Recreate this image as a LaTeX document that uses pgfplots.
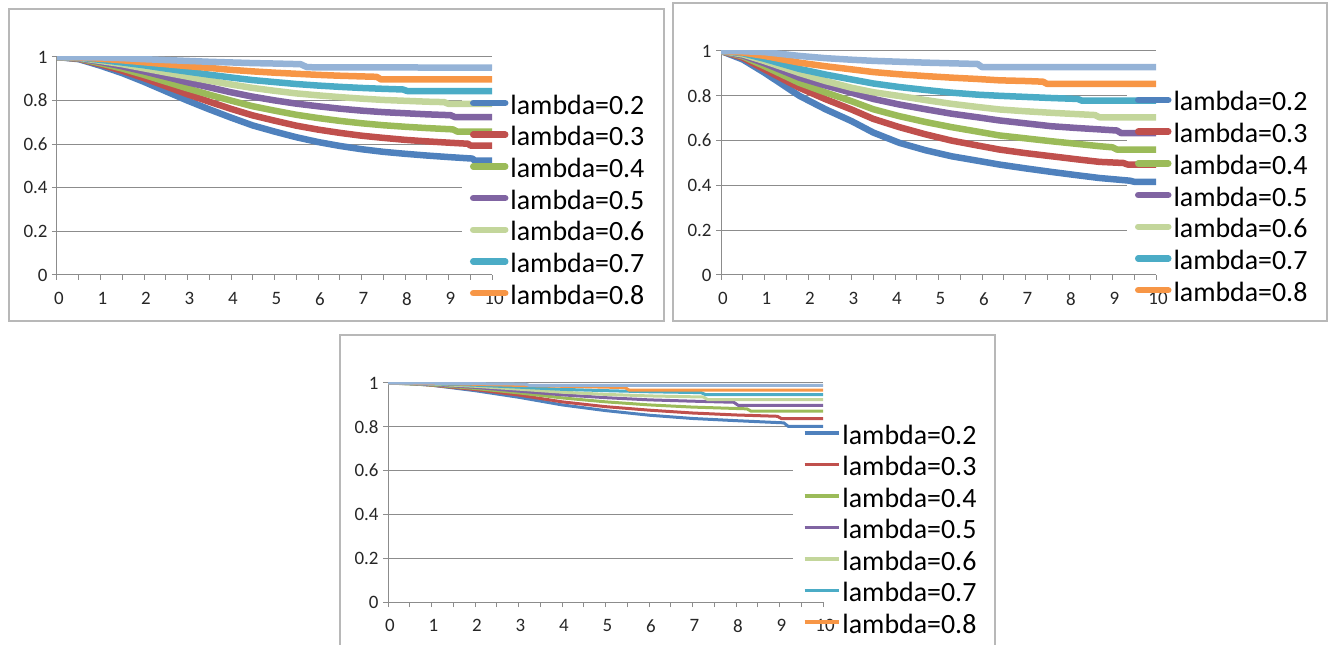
\documentclass[border=0pt]{standalone}
\usepackage{pgfplots}
\pgfplotsset{compat=1.18}
\usepackage{fontspec}
\setmainfont{Carlito}
\definecolor{c1}{HTML}{4F81BD}
\definecolor{c2}{HTML}{C0504D}
\definecolor{c3}{HTML}{9BBB59}
\definecolor{c4}{HTML}{8064A2}
\definecolor{c5}{HTML}{C3D69B}
\definecolor{c6}{HTML}{4BACC6}
\definecolor{c7}{HTML}{F79646}
\definecolor{c8}{HTML}{95B3D7}
\definecolor{axgray}{HTML}{8C8C8C}
\definecolor{frgray}{HTML}{B8B8B8}
\pgfplotsset{
  excel/.style={
    scale only axis, anchor=south west,
    width=435bp,
    xmin=0, xmax=10, ymin=0, ymax=1,
    axis x line*=bottom, axis y line*=left,
    axis line style={-, draw=axgray, line width=1bp},
    xtick={0,1,2,3,4,5,6,7,8,9,10}, minor x tick num=1,
    ytick={0,0.2,0.4,0.6,0.8,1},
    yticklabels={0,0.2,0.4,0.6,0.8,1},
    xticklabels={0,1,2,3,4,5,6,7,8,9,10},
    tick align=outside, major tick length=5bp, minor tick length=5bp,
    tick style={draw=axgray, line width=1bp},
    ymajorgrids, grid style={draw=axgray, line width=1bp},
    ticklabel style={font=\fontsize{19}{19}\selectfont, text=black!85},
    xticklabel style={yshift=-9bp, xshift=2bp},
    yticklabel style={xshift=-1bp},
    /pgf/number format/assume math mode=true,
    legend cell align=left,
    legend entries={lambda=0.2,lambda=0.3,lambda=0.4,lambda=0.5,lambda=0.6,lambda=0.7,lambda=0.8},
    every axis plot/.append style={line join=round, no markers},
  },
  leg/.style n args={3}{
    legend style={
      at={(#1,#2)}, anchor=north west,
      draw=none, fill=none, inner sep=0pt, outer sep=0pt,
      font=\fontsize{28}{28}\selectfont,
      row sep=#3, column sep=2bp,
      nodes={inner sep=0pt, outer sep=0pt, text height=22bp, text depth=0pt, anchor=west},
    },
  },
}
\begin{document}
\begin{tikzpicture}
\path[use as bounding box] (0,0) rectangle (1330bp,645bp);
% frames
\draw[frgray, line width=1.5bp] (9bp,324bp) rectangle (664bp,636bp);
\draw[frgray, line width=1.5bp] (673bp,324bp) rectangle (1327bp,642bp);
\draw[frgray, line width=1.5bp] (340bp,-10bp) rectangle (995bp,310bp);

% ---------------- panel 1
\begin{axis}[excel, at={(57bp,370bp)}, height=218bp,
  leg={0.9494}{0.8394}{9.7bp},
  legend image code/.code={\draw[#1, line cap=round, line width=6.5bp] (3bp,0bp) -- (35bp,0bp);},
  every axis plot/.append style={line width=6.5bp}]
\fill[white] (axis cs:9.3,0.01) rectangle (axis cs:10.2,0.86);
\addplot[c1] coordinates {(0,1)(0.5,0.990)(1,0.960)(1.5,0.926)(2,0.886)(2.5,0.843)(3,0.800)(3.5,0.760)(4,0.722)(4.5,0.686)(5,0.658)(5.5,0.632)(6,0.610)(6.5,0.592)(7,0.577)(7.5,0.565)(8,0.556)(8.5,0.548)(9,0.541)(9.55,0.534)(9.6,0.525)(10,0.525)};
\addplot[c2] coordinates {(0,1)(0.5,0.992)(1,0.966)(1.5,0.937)(2,0.903)(2.5,0.866)(3,0.829)(3.5,0.795)(4,0.762)(4.5,0.732)(5,0.708)(5.5,0.685)(6,0.667)(6.5,0.652)(7,0.639)(7.5,0.629)(8,0.620)(8.5,0.613)(9,0.607)(9.45,0.602)(9.5,0.594)(10,0.594)};
\addplot[c3] coordinates {(0,1)(0.5,0.993)(1,0.971)(1.5,0.947)(2,0.918)(2.5,0.887)(3,0.856)(3.5,0.827)(4,0.800)(4.5,0.774)(5,0.754)(5.5,0.735)(6,0.720)(6.5,0.707)(7,0.696)(7.5,0.687)(8,0.680)(8.5,0.674)(9.1,0.668)(9.2,0.658)(10,0.658)};
\addplot[c4] coordinates {(0,1)(0.5,0.994)(1,0.977)(1.5,0.957)(2,0.934)(2.5,0.909)(3,0.884)(3.5,0.861)(4,0.838)(4.5,0.818)(5,0.801)(5.5,0.786)(6,0.774)(6.5,0.763)(7,0.754)(7.5,0.747)(8,0.742)(8.5,0.737)(9.05,0.733)(9.15,0.724)(10,0.724)};
\addplot[c5] coordinates {(0,1)(0.5,0.996)(1,0.982)(1.5,0.967)(2,0.948)(2.5,0.929)(3,0.910)(3.5,0.891)(4,0.874)(4.5,0.858)(5,0.845)(5.5,0.833)(6,0.824)(6.5,0.816)(7,0.809)(7.5,0.803)(8,0.799)(8.5,0.795)(8.9,0.793)(9.0,0.785)(10,0.785)};
\addplot[c6] coordinates {(0,1)(0.5,0.997)(1,0.987)(1.5,0.975)(2,0.962)(2.5,0.947)(3,0.933)(3.5,0.919)(4,0.906)(4.5,0.894)(5,0.885)(5.5,0.876)(6,0.869)(6.5,0.863)(7,0.858)(7.5,0.854)(7.95,0.851)(8.05,0.844)(10,0.844)};
\addplot[c7] coordinates {(0,1)(0.5,0.998)(1,0.992)(1.5,0.985)(2,0.976)(2.5,0.967)(3,0.958)(3.5,0.950)(4,0.941)(4.5,0.934)(5,0.928)(5.5,0.923)(6,0.918)(6.5,0.914)(7,0.911)(7.35,0.909)(7.45,0.897)(10,0.897)};
\addplot[c8, forget plot] coordinates {(0,1)(1,0.998)(1.5,0.995)(2,0.990)(2.5,0.986)(3,0.982)(3.5,0.978)(4,0.975)(4.5,0.972)(5,0.970)(5.6,0.967)(5.75,0.953)(10,0.951)};
\end{axis}

% ---------------- panel 2
\begin{axis}[excel, at={(721bp,370bp)}, height=224bp,
  leg={0.9517}{0.8304}{9.7bp},
  legend image code/.code={\draw[#1, line cap=round, line width=6.5bp] (3bp,0bp) -- (33bp,0bp);},
  every axis plot/.append style={line width=6.5bp}]
\fill[white] (axis cs:9.33,0.01) rectangle (axis cs:10.2,0.85);
\addplot[c1] coordinates {(0,1)(0.5,0.962)(1,0.903)(1.8,0.80)(2.4,0.74)(3,0.687)(3.5,0.636)(4.1,0.59)(4.7,0.557)(5.3,0.53)(5.9,0.51)(6.4,0.493)(7,0.476)(7.6,0.46)(8.2,0.445)(8.7,0.433)(9.4,0.421)(9.5,0.416)(10,0.416)};
\addplot[c2] coordinates {(0,1)(0.5,0.97)(1,0.918)(1.8,0.836)(2.4,0.785)(3,0.739)(3.5,0.697)(4.1,0.66)(4.7,0.628)(5.3,0.60)(5.9,0.578)(6.4,0.56)(7,0.544)(7.6,0.53)(8.2,0.516)(8.7,0.505)(9.25,0.50)(9.35,0.493)(10,0.493)};
\addplot[c3] coordinates {(0,1)(0.5,0.976)(1,0.932)(1.8,0.858)(2.4,0.815)(3,0.776)(3.5,0.74)(4.1,0.709)(4.7,0.683)(5.3,0.66)(5.9,0.64)(6.4,0.623)(7,0.61)(7.6,0.597)(8.2,0.585)(8.7,0.575)(9.0,0.57)(9.1,0.56)(10,0.56)};
\addplot[c4] coordinates {(0,1)(0.5,0.98)(1,0.945)(1.8,0.881)(2.4,0.846)(3,0.814)(3.5,0.786)(4.1,0.761)(4.7,0.74)(5.3,0.72)(5.9,0.704)(6.4,0.69)(7,0.677)(7.6,0.664)(8.2,0.656)(8.7,0.65)(9.1,0.645)(9.2,0.633)(10,0.633)};
\addplot[c5] coordinates {(0,1)(0.5,0.985)(1,0.955)(1.8,0.902)(2.4,0.866)(3,0.836)(3.5,0.816)(4.1,0.799)(4.7,0.781)(5.3,0.764)(5.9,0.75)(6.4,0.739)(7,0.731)(7.6,0.724)(8.2,0.718)(8.6,0.714)(8.7,0.704)(10,0.704)};
\addplot[c6] coordinates {(0,1)(0.5,0.99)(1,0.965)(1.8,0.92)(2.4,0.895)(3,0.873)(3.5,0.855)(4.1,0.839)(4.7,0.826)(5.3,0.814)(5.9,0.805)(6.4,0.80)(7,0.795)(7.6,0.79)(8.2,0.786)(8.3,0.778)(10,0.778)};
\addplot[c7] coordinates {(0,1)(0.5,0.993)(1,0.978)(1.8,0.948)(2.4,0.932)(3,0.918)(3.5,0.906)(4.1,0.896)(4.7,0.888)(5.3,0.881)(5.9,0.875)(6.4,0.869)(7,0.866)(7.4,0.863)(7.5,0.853)(10,0.853)};
\addplot[c8, forget plot] coordinates {(0,1)(0.5,0.999)(1,0.995)(1.8,0.978)(2.4,0.968)(3,0.961)(3.5,0.956)(4.1,0.952)(4.7,0.948)(5.3,0.945)(5.9,0.942)(6.0,0.928)(10,0.928)};
\end{axis}

% ---------------- panel 3
\begin{axis}[excel, at={(388bp,43bp)}, height=219bp,
  leg={0.954}{0.8219}{9.5bp},
  legend image code/.code={\draw[#1, line width=3.5bp] (0bp,0bp) -- (34bp,0bp);},
  every axis plot/.append style={line width=3bp}]
\fill[white] (axis cs:9.31,0.01) rectangle (axis cs:10.2,0.79);
\addplot[c1] coordinates {(0,1)(0.5,0.998)(1,0.99)(2,0.965)(3,0.935)(4,0.9)(5,0.874)(6,0.853)(7,0.838)(8,0.828)(9.1,0.818)(9.2,0.802)(10,0.802)};
\addplot[c2] coordinates {(0,1)(0.5,0.998)(1,0.99)(2,0.97)(3,0.945)(4,0.914)(5,0.892)(6,0.876)(7,0.863)(8,0.854)(8.95,0.848)(9.05,0.837)(10,0.837)};
\addplot[c3] coordinates {(0,1)(1,0.991)(2,0.975)(3,0.955)(4,0.932)(5,0.914)(6,0.9)(7,0.89)(8.25,0.882)(8.35,0.871)(10,0.871)};
\addplot[c4] coordinates {(0,1)(1,0.993)(2,0.98)(3,0.963)(4,0.946)(5,0.933)(6,0.923)(7,0.917)(7.95,0.912)(8.05,0.898)(10,0.898)};
\addplot[c5] coordinates {(0,1)(1,0.995)(2,0.985)(3,0.972)(4,0.958)(5,0.948)(6,0.941)(7.25,0.936)(7.35,0.924)(10,0.924)};
\addplot[c6] coordinates {(0,1)(1,0.997)(2,0.99)(3,0.981)(4,0.971)(5,0.965)(6,0.96)(7.2,0.956)(7.3,0.947)(10,0.947)};
\addplot[c7] coordinates {(0,1)(1,0.998)(2,0.994)(3,0.989)(4,0.985)(5,0.981)(5.45,0.979)(5.55,0.967)(10,0.967)};
\addplot[c8, forget plot] coordinates {(0,1)(1,0.999)(2,0.997)(3.15,0.995)(3.25,0.989)(10,0.989)};
\end{axis}
\end{tikzpicture}
\end{document}
